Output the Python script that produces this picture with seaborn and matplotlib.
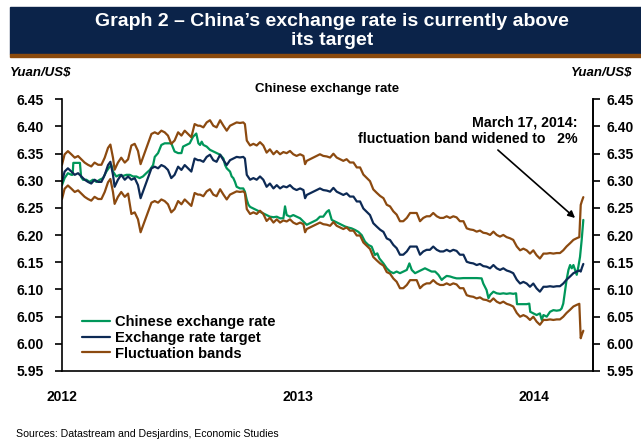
import numpy as np
import pandas as pd
import matplotlib
matplotlib.use("Agg")
import matplotlib.pyplot as plt
from matplotlib.patches import Rectangle
import seaborn as sns

# ---- data (decimal years, yuan per US$) ----
target_years = [
    2012.000, 2012.011, 2012.025, 2012.040, 2012.054, 2012.068, 2012.082, 2012.096, 2012.110, 2012.124,
    2012.138, 2012.153, 2012.167, 2012.181, 2012.195, 2012.205, 2012.216, 2012.223, 2012.237, 2012.251,
    2012.266, 2012.280, 2012.294, 2012.308, 2012.322, 2012.333, 2012.343, 2012.353, 2012.364, 2012.379,
    2012.393, 2012.407, 2012.421, 2012.435, 2012.449, 2012.463, 2012.477, 2012.492, 2012.506, 2012.520,
    2012.534, 2012.548, 2012.562, 2012.576, 2012.585, 2012.599, 2012.613, 2012.627, 2012.641, 2012.655,
    2012.670, 2012.684, 2012.698, 2012.712, 2012.726, 2012.740, 2012.754, 2012.768, 2012.775, 2012.783,
    2012.797, 2012.811, 2012.825, 2012.839, 2012.853, 2012.867, 2012.881, 2012.896, 2012.910, 2012.924,
    2012.938, 2012.952, 2012.966, 2012.980, 2012.994, 2013.009, 2013.023, 2013.030, 2013.037, 2013.051,
    2013.065, 2013.079, 2013.093, 2013.107, 2013.122, 2013.136, 2013.150, 2013.164, 2013.178, 2013.192,
    2013.206, 2013.220, 2013.235, 2013.249, 2013.263, 2013.277, 2013.291, 2013.305, 2013.319, 2013.333,
    2013.348, 2013.362, 2013.376, 2013.390, 2013.404, 2013.418, 2013.432, 2013.446, 2013.461, 2013.475,
    2013.489, 2013.503, 2013.517, 2013.531, 2013.545, 2013.559, 2013.573, 2013.588, 2013.602, 2013.616,
    2013.630, 2013.644, 2013.658, 2013.672, 2013.686, 2013.701, 2013.715, 2013.729, 2013.743, 2013.757,
    2013.771, 2013.785, 2013.799, 2013.814, 2013.828, 2013.842, 2013.856, 2013.870, 2013.884, 2013.898,
    2013.912, 2013.927, 2013.941, 2013.955, 2013.969, 2013.983, 2013.997, 2014.011, 2014.025, 2014.040,
    2014.054, 2014.068, 2014.082, 2014.096, 2014.110, 2014.124, 2014.138, 2014.153, 2014.167, 2014.181,
    2014.192, 2014.198, 2014.203, 2014.209,
]
target_rate = [
    6.298, 6.317, 6.323, 6.317, 6.311, 6.314, 6.308, 6.302, 6.298, 6.295,
    6.302, 6.298, 6.298, 6.311, 6.329, 6.335, 6.311, 6.289, 6.302, 6.311,
    6.302, 6.308, 6.302, 6.305, 6.292, 6.268, 6.280, 6.292, 6.305, 6.323,
    6.326, 6.323, 6.329, 6.326, 6.320, 6.305, 6.311, 6.326, 6.320, 6.329,
    6.323, 6.317, 6.341, 6.338, 6.338, 6.335, 6.344, 6.348, 6.338, 6.335,
    6.348, 6.338, 6.329, 6.338, 6.341, 6.344, 6.343, 6.344, 6.341, 6.311,
    6.302, 6.305, 6.302, 6.308, 6.302, 6.289, 6.295, 6.286, 6.292, 6.286,
    6.290, 6.288, 6.292, 6.286, 6.283, 6.286, 6.283, 6.268, 6.274, 6.277,
    6.280, 6.283, 6.286, 6.283, 6.282, 6.280, 6.287, 6.280, 6.277, 6.274,
    6.277, 6.271, 6.271, 6.262, 6.262, 6.249, 6.243, 6.237, 6.222, 6.216,
    6.210, 6.206, 6.194, 6.191, 6.182, 6.176, 6.164, 6.164, 6.170, 6.179,
    6.179, 6.179, 6.164, 6.170, 6.173, 6.173, 6.179, 6.173, 6.170, 6.170,
    6.173, 6.170, 6.173, 6.171, 6.164, 6.164, 6.151, 6.149, 6.148, 6.145,
    6.147, 6.143, 6.142, 6.139, 6.145, 6.139, 6.136, 6.139, 6.135, 6.133,
    6.130, 6.118, 6.111, 6.114, 6.111, 6.105, 6.111, 6.102, 6.096, 6.105,
    6.105, 6.106, 6.105, 6.106, 6.106, 6.111, 6.118, 6.124, 6.130, 6.133,
    6.135, 6.133, 6.140, 6.147,
]

spot_years = [
    2012.000, 2012.011, 2012.025, 2012.040, 2012.045, 2012.048, 2012.076, 2012.081, 2012.089, 2012.103,
    2012.117, 2012.131, 2012.146, 2012.160, 2012.174, 2012.188, 2012.202, 2012.209, 2012.216, 2012.230,
    2012.244, 2012.259, 2012.273, 2012.287, 2012.301, 2012.315, 2012.329, 2012.343, 2012.357, 2012.372,
    2012.386, 2012.393, 2012.407, 2012.421, 2012.435, 2012.449, 2012.463, 2012.477, 2012.492, 2012.506,
    2012.513, 2012.527, 2012.541, 2012.555, 2012.569, 2012.578, 2012.585, 2012.592, 2012.599, 2012.613,
    2012.627, 2012.641, 2012.655, 2012.670, 2012.684, 2012.691, 2012.698, 2012.712, 2012.719, 2012.726,
    2012.733, 2012.740, 2012.754, 2012.768, 2012.775, 2012.783, 2012.790, 2012.797, 2012.811, 2012.825,
    2012.839, 2012.853, 2012.867, 2012.881, 2012.896, 2012.910, 2012.924, 2012.938, 2012.945, 2012.952,
    2012.966, 2012.980, 2012.994, 2013.009, 2013.023, 2013.037, 2013.051, 2013.065, 2013.079, 2013.093,
    2013.107, 2013.122, 2013.131, 2013.143, 2013.157, 2013.171, 2013.185, 2013.199, 2013.213, 2013.227,
    2013.242, 2013.256, 2013.270, 2013.284, 2013.298, 2013.312, 2013.326, 2013.336, 2013.345, 2013.362,
    2013.376, 2013.390, 2013.404, 2013.418, 2013.432, 2013.446, 2013.461, 2013.472, 2013.482, 2013.496,
    2013.510, 2013.524, 2013.538, 2013.552, 2013.566, 2013.581, 2013.595, 2013.609, 2013.616, 2013.630,
    2013.644, 2013.658, 2013.672, 2013.686, 2013.701, 2013.729, 2013.757, 2013.778, 2013.785, 2013.792,
    2013.799, 2013.807, 2013.814, 2013.828, 2013.842, 2013.856, 2013.870, 2013.884, 2013.898, 2013.912,
    2013.924, 2013.928, 2013.941, 2013.955, 2013.969, 2013.980, 2013.984, 2013.997, 2014.011, 2014.025,
    2014.033, 2014.040, 2014.054, 2014.068, 2014.082, 2014.096, 2014.110, 2014.117, 2014.124, 2014.131,
    2014.138, 2014.146, 2014.153, 2014.160, 2014.167, 2014.174, 2014.181, 2014.188, 2014.195, 2014.202,
    2014.209,
]
spot_rate = [
    6.292, 6.305, 6.314, 6.311, 6.311, 6.333, 6.333, 6.307, 6.302, 6.302,
    6.298, 6.302, 6.298, 6.302, 6.305, 6.317, 6.326, 6.329, 6.317, 6.308,
    6.311, 6.309, 6.311, 6.311, 6.308, 6.308, 6.305, 6.308, 6.314, 6.320,
    6.329, 6.344, 6.351, 6.366, 6.369, 6.369, 6.369, 6.354, 6.351, 6.351,
    6.363, 6.366, 6.369, 6.381, 6.387, 6.369, 6.366, 6.372, 6.366, 6.363,
    6.357, 6.354, 6.351, 6.348, 6.341, 6.329, 6.323, 6.317, 6.308, 6.305,
    6.298, 6.289, 6.286, 6.286, 6.280, 6.265, 6.256, 6.252, 6.249, 6.246,
    6.243, 6.240, 6.237, 6.234, 6.233, 6.234, 6.231, 6.231, 6.253, 6.237,
    6.234, 6.237, 6.234, 6.231, 6.225, 6.219, 6.222, 6.225, 6.228, 6.234,
    6.234, 6.243, 6.246, 6.228, 6.225, 6.222, 6.219, 6.216, 6.214, 6.2125,
    6.2095, 6.206, 6.200, 6.188, 6.182, 6.179, 6.1635, 6.1665, 6.157, 6.148,
    6.139, 6.133, 6.130, 6.133, 6.130, 6.133, 6.136, 6.148, 6.136, 6.130,
    6.133, 6.136, 6.139, 6.136, 6.133, 6.133, 6.127, 6.1175, 6.1205, 6.125,
    6.124, 6.122, 6.1205, 6.1205, 6.121, 6.121, 6.121, 6.1205, 6.111, 6.105,
    6.099, 6.084, 6.090, 6.096, 6.093, 6.092, 6.093, 6.092, 6.093, 6.092,
    6.093, 6.073, 6.073, 6.073, 6.073, 6.074, 6.059, 6.056, 6.053, 6.056,
    6.044, 6.053, 6.050, 6.059, 6.062, 6.061, 6.062, 6.065, 6.074, 6.096,
    6.1175, 6.136, 6.145, 6.139, 6.145, 6.136, 6.127, 6.142, 6.160, 6.191,
    6.228,
]

# trading band around the central parity: start of each regime and its half-width
band_start = [2012.000, 2012.290, 2014.195]
band_width = [0.005, 0.010, 0.020]

tick_years = [2012, 2013, 2014]
tick_labels = ["2012", "2013", "2014"]
y_ticks = [5.95, 6.00, 6.05, 6.10, 6.15, 6.20, 6.25, 6.30, 6.35, 6.40, 6.45]

# ---- derived frames ----
target = pd.DataFrame({"year": target_years, "rate": target_rate})
regime = np.searchsorted(band_start, target["year"].to_numpy(), side="right") - 1
half = np.asarray(band_width)[regime]
target["upper"] = target["rate"] * (1 + half)
target["lower"] = target["rate"] * (1 - half)
spot = pd.DataFrame({"year": spot_years, "rate": spot_rate})

# ---- style ----
sns.set_theme(style="white")
plt.rcParams["font.family"] = ["Liberation Sans", "DejaVu Sans"]
plt.rcParams["font.weight"] = "bold"

GREEN = "#00975a"
NAVY = "#0d2a55"
BROWN = "#8c4a10"
BANNER = "#0b2349"

W, H = 641, 441
fig = plt.figure(figsize=(W / 100, H / 100), dpi=100)
ax = fig.add_axes([62 / W, 1 - 371 / H, (593 - 62) / W, (371 - 99.3) / H])

sns.lineplot(data=spot, x="year", y="rate", ax=ax, color=GREEN, lw=1.6,
             estimator=None, label="Chinese exchange rate")
sns.lineplot(data=target, x="year", y="rate", ax=ax, color=NAVY, lw=1.6,
             estimator=None, label="Exchange rate target")
sns.lineplot(data=target, x="year", y="upper", ax=ax, color=BROWN, lw=1.6,
             estimator=None, label="Fluctuation bands")
sns.lineplot(data=target, x="year", y="lower", ax=ax, color=BROWN, lw=1.6,
             estimator=None, label="_nolegend_")

ax.set_xlim(2012.0, 2014.25)
ax.set_ylim(5.95, 6.45)
ax.set_xlabel("")
ax.set_ylabel("")
ax.set_xticks(tick_years)
ax.set_xticklabels(tick_labels)
ax.set_yticks(y_ticks)
ax.set_yticklabels([f"{v:.2f}" for v in y_ticks])
ax.tick_params(axis="x", length=0, pad=14, labelsize=10, labelcolor="black")
ax.tick_params(axis="y", direction="out", length=5, width=1.2, color="black",
               pad=8, labelsize=10, labelcolor="black")
for t in ax.get_xticklabels() + ax.get_yticklabels():
    t.set_fontweight("bold")

ax.spines["top"].set_visible(False)
for s in ("left", "right", "bottom"):
    ax.spines[s].set_visible(True)
    ax.spines[s].set_color("black")
    ax.spines[s].set_linewidth(1.2)

# right-hand scale
ax2 = ax.twinx()
ax2.set_ylim(5.95, 6.45)
ax2.set_yticks(y_ticks)
ax2.set_yticklabels([f"{v:.2f}" for v in y_ticks])
ax2.tick_params(axis="y", direction="out", length=5, width=1.2, color="black",
                pad=5, labelsize=10, labelcolor="black")
for t in ax2.get_yticklabels():
    t.set_fontweight("bold")
for s in ("top", "left", "bottom"):
    ax2.spines[s].set_visible(False)
ax2.spines["right"].set_color("black")
ax2.spines["right"].set_linewidth(1.2)
ax2.grid(False)
ax.grid(False)

leg = ax.legend(loc="upper left", bbox_to_anchor=(82 / W, 1 - 315 / H),
                bbox_transform=fig.transFigure, frameon=False, fontsize=10.6,
                handlelength=1.9, handletextpad=0.35, labelspacing=0.12,
                borderpad=0, borderaxespad=0)
for txt in leg.get_texts():
    txt.set_fontweight("bold")
    txt.set_color("black")

# annotation on the band widening
ax.annotate("", xy=(2014.174, 6.2316), xytext=(2013.847, 6.3567),
            arrowprops=dict(arrowstyle="-|>", color="black", lw=1.2,
                            mutation_scale=10, shrinkA=0, shrinkB=0))
ax.text(2014.186, 6.3920, "March 17, 2014:\nfluctuation band widened to   2%",
        ha="right", va="center", multialignment="right", fontsize=10.2,
        fontweight="bold", color="black", linespacing=1.22)

# header banner
fig.patches.append(Rectangle((10 / W, 1 - 54 / H), 1 - 10 / W, 47 / H,
                             transform=fig.transFigure, color=BANNER, zorder=0))
fig.patches.append(Rectangle((10 / W, 1 - 57 / H), 1 - 10 / W, 3 / H,
                             transform=fig.transFigure, color="#8b4a0c", zorder=0))
fig.text(332 / W, 1 - 31 / H,
         "Graph 2 \u2013 China\u2019s exchange rate is currently above\nits target",
         ha="center", va="center", color="white", fontsize=14, fontweight="bold",
         linespacing=1.12)

fig.text(10 / W, 1 - 73 / H, "Yuan/US$", ha="left", va="center", fontsize=9.5,
         fontweight="bold", fontstyle="italic", color="black")
fig.text(632 / W, 1 - 73 / H, "Yuan/US$", ha="right", va="center", fontsize=9.5,
         fontweight="bold", fontstyle="italic", color="black")
fig.text(327 / W, 1 - 89 / H, "Chinese exchange rate", ha="center", va="center",
         fontsize=9.5, fontweight="bold", color="black")
fig.text(16 / W, 1 - 434 / H, "Sources: Datastream and Desjardins, Economic Studies",
         ha="left", va="center", fontsize=7.6, fontweight="normal", color="black")

fig.savefig("out.png", dpi=100)
